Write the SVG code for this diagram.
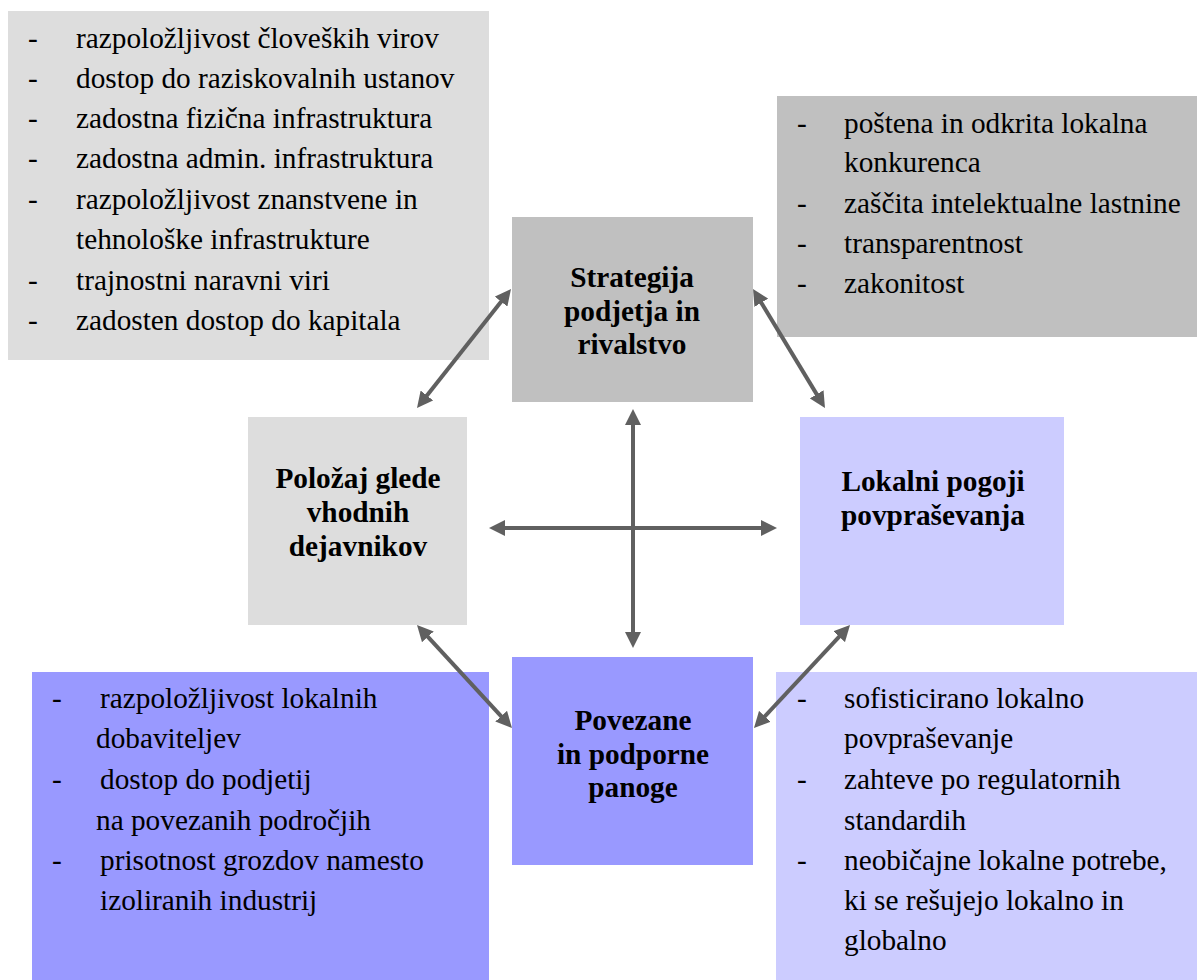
<svg xmlns="http://www.w3.org/2000/svg" width="1197" height="980" viewBox="0 0 1197 980">
  <defs>
    <style>
      .link { stroke: #606060; stroke-width: 4; fill: none; marker-start: url(#head); marker-end: url(#head); }
    </style>
    <marker id="head" markerUnits="userSpaceOnUse" markerWidth="16" markerHeight="16" viewBox="0 0 16 16" refX="6" refY="8" orient="auto-start-reverse">
      <path d="M0,0 L16,8 L0,16 z" fill="#606060"/>
    </marker>
  </defs>

  <rect width="1197" height="980" fill="#ffffff"/>

  <!-- factor list (top left) -->
  <g id="list-factors">
    <rect x="8" y="11" width="481" height="349" fill="#dddddd"/>
    <g font-family="'Liberation Serif', 'Times New Roman', serif" font-size="29.3" fill="#000">
      <text x="28" y="48">-</text><text x="76" y="48">razpoložljivost človeških virov</text>
      <text x="28" y="88">-</text><text x="76" y="88">dostop do raziskovalnih ustanov</text>
      <text x="28" y="128">-</text><text x="76" y="128">zadostna fizična infrastruktura</text>
      <text x="28" y="168">-</text><text x="76" y="168">zadostna admin. infrastruktura</text>
      <text x="28" y="209">-</text><text x="76" y="209">razpoložljivost znanstvene in</text>
      <text x="76" y="249">tehnološke infrastrukture</text>
      <text x="28" y="290">-</text><text x="76" y="290">trajnostni naravni viri</text>
      <text x="28" y="330">-</text><text x="76" y="330">zadosten dostop do kapitala</text>
    </g>
  </g>

  <!-- rivalry list (top right) -->
  <g id="list-rivalry">
    <rect x="777" y="96" width="420" height="241" fill="#c0c0c0"/>
    <g font-family="'Liberation Serif', 'Times New Roman', serif" font-size="29.3" fill="#000">
      <text x="797" y="133">-</text><text x="844" y="133">poštena in odkrita lokalna</text>
      <text x="844" y="172">konkurenca</text>
      <text x="797" y="213">-</text><text x="844" y="213">zaščita intelektualne lastnine</text>
      <text x="797" y="253">-</text><text x="844" y="253">transparentnost</text>
      <text x="797" y="293">-</text><text x="844" y="293">zakonitost</text>
    </g>
  </g>

  <!-- supporting industries list (bottom left) -->
  <g id="list-industries">
    <rect x="32" y="672" width="457" height="308" fill="#9999ff"/>
    <g font-family="'Liberation Serif', 'Times New Roman', serif" font-size="29.3" fill="#000">
      <text x="52" y="708">-</text><text x="100" y="708">razpoložljivost lokalnih</text>
      <text x="96" y="748">dobaviteljev</text>
      <text x="52" y="789">-</text><text x="100" y="789">dostop do podjetij</text>
      <text x="96" y="830">na povezanih področjih</text>
      <text x="52" y="870">-</text><text x="100" y="870">prisotnost grozdov namesto</text>
      <text x="100" y="910">izoliranih industrij</text>
    </g>
  </g>

  <!-- demand list (bottom right) -->
  <g id="list-demand">
    <rect x="776" y="672" width="421" height="308" fill="#ccccff"/>
    <g font-family="'Liberation Serif', 'Times New Roman', serif" font-size="29.3" fill="#000">
      <text x="797" y="708">-</text><text x="844" y="708">sofisticirano lokalno</text>
      <text x="844" y="748">povpraševanje</text>
      <text x="797" y="789">-</text><text x="844" y="789">zahteve po regulatornih</text>
      <text x="844" y="830">standardih</text>
      <text x="797" y="870">-</text><text x="844" y="870">neobičajne lokalne potrebe,</text>
      <text x="844" y="910">ki se rešujejo lokalno in</text>
      <text x="844" y="950">globalno</text>
    </g>
  </g>

  <!-- connectors -->
  <g id="connectors">
    <line class="link" x1="633" y1="419" x2="633" y2="638"/>
    <line class="link" x1="499" y1="528" x2="767" y2="528"/>
    <line class="link" x1="423.2" y1="400.2" x2="504.8" y2="296.9"/>
    <line class="link" x1="758.2" y1="297.6" x2="819.8" y2="399.4"/>
    <line class="link" x1="423.8" y1="632.4" x2="505.2" y2="720.6"/>
    <line class="link" x1="843.2" y1="632.3" x2="760.8" y2="720.7"/>
  </g>

  <!-- diamond nodes -->
  <g id="node-strategy" font-family="'Liberation Serif', 'Times New Roman', serif" font-size="29.3" font-weight="bold" text-anchor="middle">
    <rect x="512" y="217" width="241" height="185" fill="#c0c0c0"/>
    <text x="632" y="287">Strategija</text>
    <text x="632" y="321">podjetja in</text>
    <text x="632" y="354">rivalstvo</text>
  </g>

  <g id="node-factors" font-family="'Liberation Serif', 'Times New Roman', serif" font-size="29.3" font-weight="bold" text-anchor="middle">
    <rect x="248" y="417" width="219" height="208" fill="#dddddd"/>
    <text x="358" y="488">Položaj glede</text>
    <text x="358" y="522">vhodnih</text>
    <text x="358" y="556">dejavnikov</text>
  </g>

  <g id="node-demand" font-family="'Liberation Serif', 'Times New Roman', serif" font-size="29.3" font-weight="bold" text-anchor="middle">
    <rect x="800" y="417" width="264" height="208" fill="#ccccff"/>
    <text x="933" y="491">Lokalni pogoji</text>
    <text x="933" y="525">povpraševanja</text>
  </g>

  <g id="node-industries" font-family="'Liberation Serif', 'Times New Roman', serif" font-size="29.3" font-weight="bold" text-anchor="middle">
    <rect x="512" y="657" width="241" height="208" fill="#9999ff"/>
    <text x="633" y="730">Povezane</text>
    <text x="633" y="764">in podporne</text>
    <text x="633" y="797">panoge</text>
  </g>
</svg>
